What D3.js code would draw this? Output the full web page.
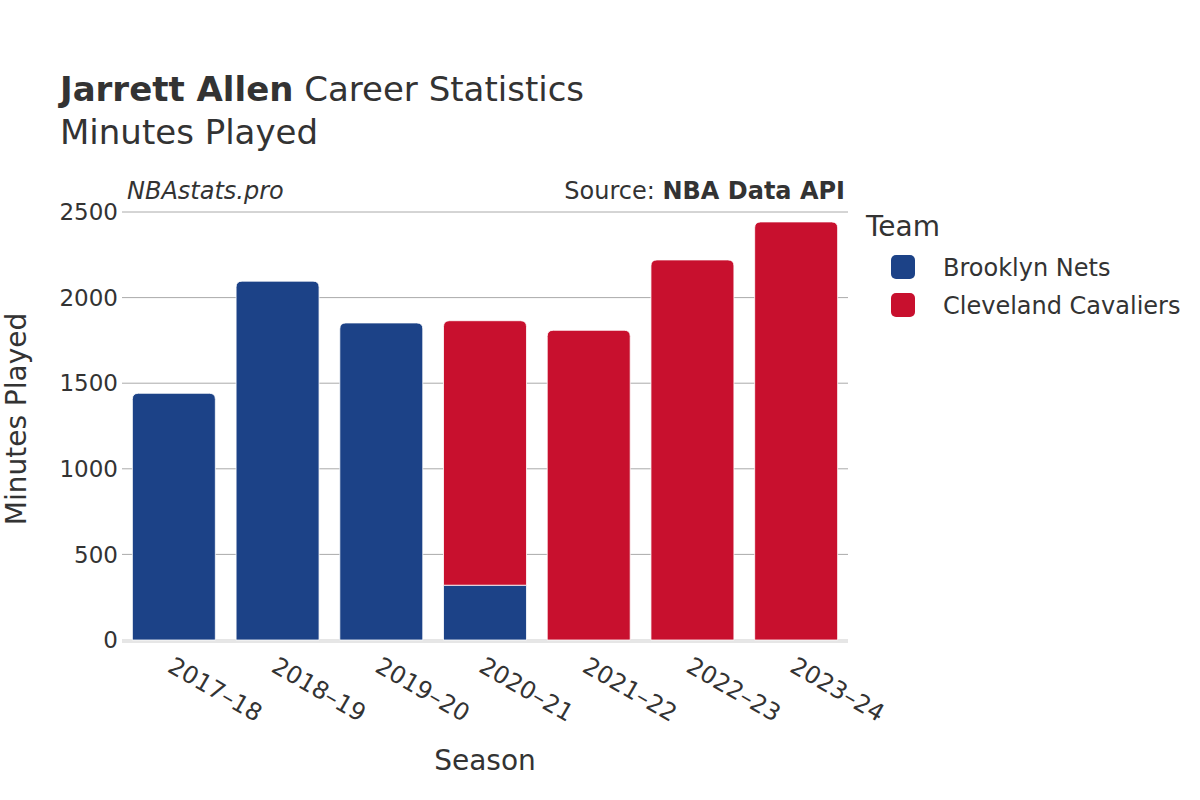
<!DOCTYPE html>
<html>
<head>
<meta charset="utf-8">
<script src="https://cdn.jsdelivr.net/npm/d3@7"></script>
<style>
  body { margin: 0; background: #fff; }
  text { font-family: "DejaVu Sans", sans-serif; fill: #333; }
</style>
</head>
<body>
<svg id="chart"></svg>
<script>
let seasons = ["2017-18", "2018-19", "2019-20", "2020-21", "2021-22", "2022-23", "2023-24"];
let teams = ["Brooklyn Nets", "Cleveland Cavaliers"];
let netsMinutes = [1441, 2096, 1852, 320, 0, 0, 0];
let cavsMinutes = [0, 0, 0, 1545, 1809, 2220, 2442];
let yTicks = [0, 500, 1000, 1500, 2000, 2500];

let colour = {
    "Brooklyn Nets": "#1c4287",
    "Cleveland Cavaliers": "#c8102e"
};

let width = 1200,
    height = 800,
    plotLeft = 122,
    plotRight = 848,
    plotTop = 212,
    plotBottom = 640;

let rows = seasons.map((s, i) => ({
    season: s,
    "Brooklyn Nets": netsMinutes[i],
    "Cleveland Cavaliers": cavsMinutes[i]
}));

let svg = d3.select("#chart")
    .attr("width", width)
    .attr("height", height);

let x = d3.scaleBand()
    .domain(seasons)
    .range([plotLeft, plotRight])
    .paddingInner(0.2)
    .paddingOuter(0.1);

let y = d3.scaleLinear()
    .domain([0, 2500])
    .range([plotBottom, plotTop]);

// grid
svg.append("g")
    .selectAll("line")
    .data(yTicks.filter(d => d > 0))
    .enter().append("line")
    .attr("x1", plotLeft)
    .attr("x2", plotRight)
    .attr("y1", d => y(d))
    .attr("y2", d => y(d))
    .attr("stroke", "#aaa")
    .attr("stroke-width", 1);

// zero line
svg.append("line")
    .attr("x1", plotLeft)
    .attr("x2", plotRight)
    .attr("y1", y(0) + 1)
    .attr("y2", y(0) + 1)
    .attr("stroke", "#e6e6e6")
    .attr("stroke-width", 4);

// y tick labels
svg.append("g")
    .selectAll("text")
    .data(yTicks)
    .enter().append("text")
    .attr("x", plotLeft - 4)
    .attr("y", d => y(d))
    .attr("dy", "0.36em")
    .attr("text-anchor", "end")
    .style("font-size", "23px")
    .text(d => d);

let stack = d3.stack().keys(teams)(rows);

function barPath(x0, x1, y0, y1, r) {
    r = Math.min(r, (y0 - y1) / 2);
    return "M" + x0 + "," + y0 +
        "V" + (y1 + r) +
        "Q" + x0 + "," + y1 + " " + (x0 + r) + "," + y1 +
        "H" + (x1 - r) +
        "Q" + x1 + "," + y1 + " " + x1 + "," + (y1 + r) +
        "V" + y0 + "Z";
}

// which layer is the top of each stack
let topKey = rows.map(r => r["Cleveland Cavaliers"] > 0 ? "Cleveland Cavaliers" : "Brooklyn Nets");

stack.forEach(layer => {
    svg.append("g")
        .selectAll("path")
        .data(layer.filter(d => d[1] - d[0] > 0))
        .enter().append("path")
        .attr("d", d => {
            let i = seasons.indexOf(d.data.season);
            let x0 = x(d.data.season), x1 = x0 + x.bandwidth();
            let r = topKey[i] === layer.key ? 6 : 0;
            return barPath(x0, x1, y(d[0]), y(d[1]), r);
        })
        .attr("fill", colour[layer.key])
        .attr("stroke", "#fff")
        .attr("stroke-width", 0.8);
});

// x tick labels
svg.append("g")
    .selectAll("text")
    .data(seasons)
    .enter().append("text")
    .attr("transform", d => "translate(" + (x(d) + x.bandwidth() / 2 + 2) + "," + (plotBottom + 14) + ") rotate(30)")
    .attr("dy", "0.8em")
    .style("font-size", "24px")
    .text(d => d.replace("-", "\u2013"));

// titles
let title = svg.append("text")
    .attr("x", 60)
    .attr("y", 101)
    .style("font-size", "34px");
title.append("tspan").style("font-weight", "bold").text("Jarrett Allen");
title.append("tspan").text(" Career Statistics");

svg.append("text")
    .attr("x", 60)
    .attr("y", 144)
    .style("font-size", "34px")
    .text("Minutes Played");

svg.append("text")
    .attr("x", 127)
    .attr("y", 199)
    .style("font-size", "24px")
    .style("font-style", "italic")
    .text("NBAstats.pro");

let src = svg.append("text")
    .attr("x", 845)
    .attr("y", 199)
    .attr("text-anchor", "end")
    .style("font-size", "24px");
src.append("tspan").text("Source: ");
src.append("tspan").style("font-weight", "bold").text("NBA Data API");

// axis titles
svg.append("text")
    .attr("transform", "translate(26,419) rotate(-90)")
    .attr("text-anchor", "middle")
    .style("font-size", "28px")
    .text("Minutes Played");

svg.append("text")
    .attr("x", (plotLeft + plotRight) / 2)
    .attr("y", 770)
    .attr("text-anchor", "middle")
    .style("font-size", "28px")
    .text("Season");

// legend
svg.append("text")
    .attr("x", 866)
    .attr("y", 236)
    .style("font-size", "28px")
    .text("Team");

let lg = svg.append("g")
    .selectAll("g")
    .data(teams)
    .enter().append("g")
    .attr("transform", (d, i) => "translate(891," + (255 + i * 38) + ")");

lg.append("rect")
    .attr("width", 24)
    .attr("height", 24)
    .attr("rx", 5)
    .attr("fill", d => colour[d]);

lg.append("text")
    .attr("x", 52)
    .attr("y", 12)
    .attr("dy", "0.36em")
    .style("font-size", "24px")
    .text(d => d);
</script>
</body>
</html>
